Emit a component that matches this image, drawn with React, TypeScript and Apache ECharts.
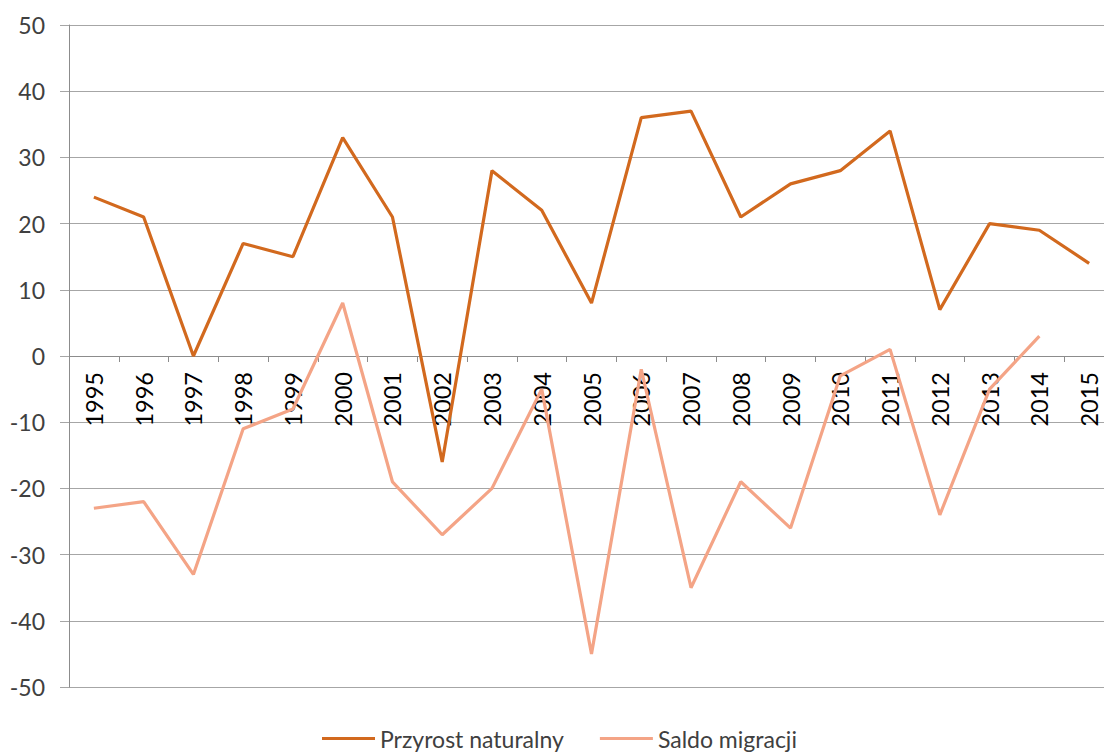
import React, { useEffect, useRef } from "react";
import * as echarts from "echarts";

const years = ["1995","1996","1997","1998","1999","2000","2001","2002","2003","2004","2005","2006","2007","2008","2009","2010","2011","2012","2013","2014","2015"];
const przyrostNaturalny = [24, 21, 0, 17, 15, 33, 21, -16, 28, 22, 8, 36, 37, 21, 26, 28, 34, 7, 20, 19, 14];
const saldoMigracji: (number | null)[] = [-23, -22, -33, -11, -8, 8, -19, -27, -20, -5, -45, -2, -35, -19, -26, -3, 1, -24, -5, 3, null];
const seriesNames = ["Przyrost naturalny", "Saldo migracji"];

const FONT = "Lato";

export default function App() {
  const ref = useRef<HTMLDivElement>(null);
  useEffect(() => {
    if (!ref.current) return;
    const chart = echarts.init(ref.current, undefined, { renderer: "svg" });
    chart.setOption({
      animation: false,
      textStyle: { fontFamily: FONT },
      grid: { left: 69, right: 0, top: 25, bottom: 69, containLabel: false },
      legend: {
        left: 317,
        bottom: 1,
        itemWidth: 53,
        itemHeight: 3,
        itemGap: 36,
        icon: "rect",
        textStyle: { fontFamily: FONT, fontSize: 23, color: "#404040" },
        data: seriesNames,
      },
      xAxis: {
        type: "category",
        data: years,
        boundaryGap: true,
        offset: -331,
        axisLine: { onZero: false, lineStyle: { color: "#8C8C8C", width: 1 } },
        axisTick: { show: true, length: 6, interval: 0, lineStyle: { color: "#8C8C8C" } },
        axisLabel: {
          rotate: 90,
          interval: 0,
          margin: 16,
          color: "#000000",
          fontFamily: FONT,
          fontSize: 23.5,
        },
        splitLine: { show: false },
      },
      yAxis: {
        type: "value",
        min: -50,
        max: 50,
        interval: 10,
        axisLine: { show: true, lineStyle: { color: "#8C8C8C", width: 1 } },
        axisTick: { show: true, length: 9, lineStyle: { color: "#A6A6A6" } },
        axisLabel: { margin: 24, color: "#404040", fontFamily: FONT, fontSize: 23 },
        splitLine: { show: true, lineStyle: { color: "#A6A6A6", width: 1 } },
      },
      series: [
        {
          name: seriesNames[0],
          type: "line",
          data: przyrostNaturalny,
          symbol: "none",
          lineStyle: { color: "#D2691E", width: 3.2 },
          itemStyle: { color: "#D2691E" },
          z: 3,
        },
        {
          name: seriesNames[1],
          type: "line",
          data: saldoMigracji,
          symbol: "none",
          lineStyle: { color: "#F4A486", width: 3.2 },
          itemStyle: { color: "#F4A486" },
          z: 2,
        },
      ],
    });
    return () => chart.dispose();
  }, []);
  return (
    <div style={{ position: "absolute", left: 0, top: 0, width: 1104, height: 756, overflow: "hidden", background: "#ffffff" }}>
      <div ref={ref} style={{ width: 1114, height: 756 }} />
    </div>
  );
}
